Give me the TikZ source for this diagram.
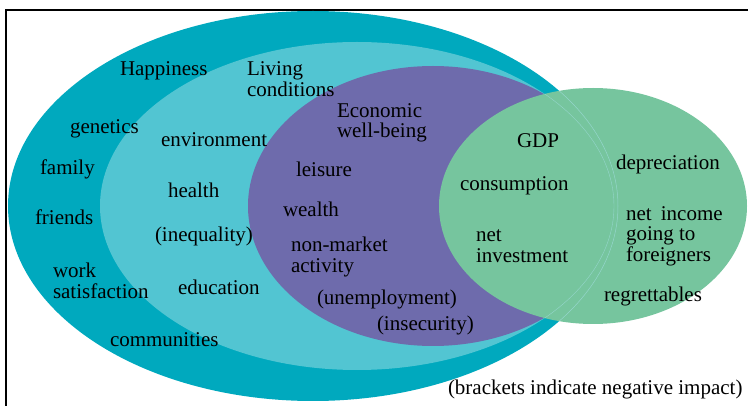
\documentclass[tikz,border=0pt]{standalone}
\usepackage{fontspec}
\setmainfont{Liberation Serif}
\definecolor{outerc}{HTML}{00A9BE}
\definecolor{midc}{HTML}{52C5D2}
\definecolor{purc}{HTML}{6E6BAC}
\definecolor{grnc}{HTML}{76C59E}
\definecolor{faintc}{HTML}{95D6CC}
\tikzset{
  lbl/.style={anchor=base west, inner sep=0pt, outer sep=0pt, font=\fontsize{21}{21}\selectfont, text=black},
  frame/.style={line width=1.6pt, black}
}
\begin{document}
\begin{tikzpicture}[x=1pt,y=-1pt]
\useasboundingbox (0,0) rectangle (748,406);
% frame
\coordinate (fr1) at (6,406);
\coordinate (fr2) at (6,10);
\coordinate (fr3) at (748,10);
\draw[frame] (fr1) -- (fr2) -- (fr3);
% ellipses
\fill[outerc] (313,206) ellipse [x radius=305, y radius=195];
\fill[midc] (357,206) ellipse [x radius=257, y radius=164];
\fill[purc] (433,206) ellipse [x radius=185, y radius=140];
\fill[grnc] (593,206) ellipse [x radius=154, y radius=118];
\begin{scope}
  \clip (593,206) ellipse [x radius=154, y radius=118];
  \draw[faintc, line width=0.5pt] (313,206) ellipse [x radius=305, y radius=195];
  \draw[faintc, line width=0.4pt] (357,206) ellipse [x radius=257, y radius=164];
\end{scope}
% texts
\node[lbl] (happ) at (120,76) {Happiness};
\node[lbl] (liv1) at (247,76) {Living};
\node[lbl] (liv2) at (247,97) {conditions};
\node[lbl] (eco1) at (337,118) {Economic};
\node[lbl] (eco2) at (337,138) {well-being};
\node[lbl] (gen) at (70,134) {genetics};
\node[lbl] (env) at (161,147) {environment};
\node[lbl] (fam) at (40,175) {family};
\node[lbl] (lei) at (296,177) {leisure};
\node[lbl] (hea) at (168,198) {health};
\node[lbl] (gdp) at (517,148) {GDP};
\node[lbl] (dep) at (616,170) {depreciation};
\node[lbl] (con) at (460,191) {consumption};
\node[lbl] (fri) at (35,225) {friends};
\node[lbl] (wea) at (283,217) {wealth};
\node[lbl] (ineq) at (155,242) {(inequality)};
\node[lbl] (nm1) at (291,252) {non-market};
\node[lbl] (nm2) at (291,273) {activity};
\node[lbl] (ni1) at (476,242) {net};
\node[lbl] (ni2) at (476,263) {investment};
\node[lbl] (nf1) at (626,221) {net\hspace{4pt} income};
\node[lbl] (nf2) at (626,241) {going to};
\node[lbl] (nf3) at (626,262) {foreigners};
\node[lbl] (ws1) at (53,278) {work};
\node[lbl] (ws2) at (53,299) {satisfaction};
\node[lbl] (edu) at (178,295) {education};
\node[lbl] (une) at (317,305) {(unemployment)};
\node[lbl] (reg) at (604,302) {regrettables};
\node[lbl] (ins) at (377,331) {(insecurity)};
\node[lbl] (com) at (110,347) {communities};
\node[lbl] (brk) at (448,395) {(brackets indicate negative impact)};
\end{tikzpicture}
\end{document}
